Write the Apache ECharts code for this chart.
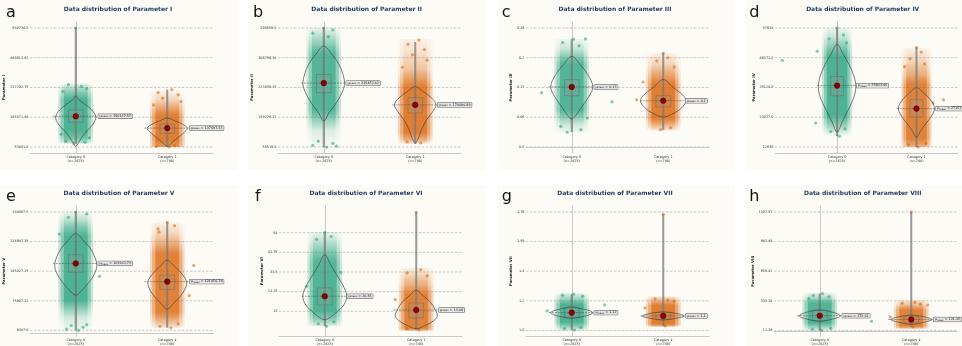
<!DOCTYPE html>
<html><head><meta charset="utf-8">
<script src="https://cdn.jsdelivr.net/npm/echarts@6/dist/echarts.min.js"></script>
<style>html,body{margin:0;padding:0;background:#fff}#c{width:962px;height:346px}</style>
</head><body><div id="c"></div>
<script>
// ---------- DATA ----------
const panelLetters = ['a','b','c','d','e','f','g','h'];
const panelTitles = ['Data distribution of Parameter I','Data distribution of Parameter II','Data distribution of Parameter III','Data distribution of Parameter IV','Data distribution of Parameter V','Data distribution of Parameter VI','Data distribution of Parameter VII','Data distribution of Parameter VIII'];
const yAxisNames = ['Parameter I','Parameter II','Parameter III','Parameter IV','Parameter V','Parameter VI','Parameter VII','Parameter VIII'];
const categories = ['Category 0\n(n=2425)','Category 1\n(n=748)'];

const tickValues = [
  [53851, 185571.875, 317292.75, 449013.625, 580734.5],
  [55519, 139279.125, 223039.25, 306799.375, 390559.5],
  [0, 0.065, 0.13, 0.195, 0.26],
  [12630, 23877, 35124, 46371, 57618],
  [6387, 75907.125, 145427.25, 214947.375, 284467.5],
  [13, 23.25, 33.5, 43.75, 54],
  [1.0, 1.1975, 1.395, 1.5925, 1.79],
  [11.26, 335.3375, 659.415, 983.4925, 1307.57]
];
const tickLabels = [
  ['53851.0','185571.88','317292.75','449013.62','580734.5'],
  ['55519.0','139279.12','223039.25','306799.38','390559.5'],
  ['0.0','0.06','0.13','0.2','0.26'],
  ['12630','23877.0','35124.0','46371.0','57618'],
  ['6387.0','75907.12','145427.25','214947.38','284467.5'],
  ['13','23.25','33.5','43.75','54'],
  ['1.0','1.2','1.4','1.59','1.79'],
  ['11.26','335.34','659.42','983.49','1307.57']
];
const yRanges = [[27507,607078.7],[38767,407311.5],[-0.013,0.273],[10380.6,59867.4],[-7517,298371.5],[-0.1,67.9],[0.9605,1.8295],[-53.56,1372.39]];
const xRanges = [[-0.5,1.5],[-0.5,1.5],[-0.5,1.5],[-0.782,1.523],[-0.5,1.5],[-0.5,1.5],[-0.5,1.5],[-0.5,1.5]];

// per panel: [category 0, category 1]
const whiskerLow  = [[68000,53851],[55519,65000],[0.0325,0.0369],[16722,12630],[6387,12800],[5.2,3.2],[1.003,1.03],[11.26,49.4]];
const whiskerHigh = [[580734.5,307700],[390559.5,351000],[0.2357,0.2048],[57618,50240],[284467.5,259800],[54.2,64.6],[1.242,1.774],[414.6,1307.57]];
const q1Values = [[164500,115000],[208400,151400],[0.112,0.0877],[32011,23984],[143000,102800],[16.3,9.5],[1.09,1.075],[120,97.4]];
const q3Values = [[218000,155500],[259600,194100],[0.1473,0.112],[39273,30482],[184000,136000],[25.2,17.3],[1.15,1.12],[232,164.6]];
const meanValues = [[190137.55,137597.55],[235453.62,174090.89],[0.1312,0.101],[35833.46,27157.63],[163663.73,121056.78],[20.83,13.68],[1.119,1.097],[172.61,131.15]];

// violin outlines: [value, half width in category units]
const violinA = [
  [[281000,0],[263000,0.035],[240500,0.11],[218000,0.175],[187000,0.22],[155500,0.19],[128500,0.13],[102000,0.075],[75000,0.033],[57000,0]],
  [[182400,0],[169000,0.087],[155500,0.164],[137600,0.219],[115200,0.175],[92900,0.109],[75000,0.055],[57000,0]]
];
const violinB = [
  [[339300,0],[316550,0.088],[288080,0.166],[259620,0.21],[231150,0.227],[202680,0.188],[174220,0.122],[151450,0.055],[128670,0]],
  [[225460,0],[211220,0.088],[194140,0.177],[174210,0.227],[154290,0.188],[131520,0.122],[103050,0.066],[80280,0.033],[66050,0]]
];
const violinC = [
  [[0.1981,0],[0.1805,0.088],[0.1584,0.175],[0.1319,0.23],[0.1098,0.186],[0.0877,0.109],[0.0722,0.055],[0.0612,0]],
  [[0.1473,0],[0.1297,0.11],[0.1142,0.21],[0.101,0.25],[0.0855,0.2],[0.0744,0.12],[0.0656,0]]
];
const violinD = [
  [[51503,0],[47681,0.076],[43859,0.151],[39272,0.214],[35068,0.236],[30482,0.2],[25896,0.126],[22073,0.063],[18251,0]],
  [[35068,0],[32775,0.1],[30482,0.176],[27424,0.227],[24367,0.19],[21309,0.113],[18634,0.05],[16340,0]]
];
const violinE = [
  [[233777,0],[216486,0.087],[197537,0.164],[178587,0.208],[159637,0.23],[140687,0.208],[121738,0.153],[102788,0.077],[89286,0]],
  [[170770,0],[154900,0.087],[138320,0.164],[119370,0.213],[100420,0.186],[83840,0.131],[69628,0.066],[56126,0]]
];
const violinF = [
  [[42.52,0],[37.15,0.066],[31.94,0.131],[26.72,0.197],[20.98,0.24],[16.29,0.208],[12.64,0.131],[10.03,0.066],[8.62,0]],
  [[23.96,0],[20.98,0.077],[17.85,0.153],[13.68,0.208],[10.55,0.23],[7.94,0.186],[5.86,0.11],[3.93,0]]
];
const violinG = [
  [[1.1573,0],[1.146,0.1],[1.1327,0.19],[1.1192,0.23],[1.1058,0.2],[1.0923,0.12],[1.0808,0]],
  [[1.1238,0],[1.1124,0.15],[1.0956,0.23],[1.0822,0.15],[1.07,0]]
];
const violinH = [
  [[235.3,0],[209.6,0.143],[170.4,0.227],[136.7,0.143],[112.1,0]],
  [[179.3,0],[159.1,0.143],[131.1,0.225],[103.1,0.143],[78.5,0]]
];

// density of the jittered point cloud: [value, density 0..1], high to low
const cloudA = [
  [[339000,0],[316600,0.25],[285300,0.6],[263000,0.85],[128600,0.85],[92800,0.6],[70500,0.2],[68000,0]],
  [[307700,0],[262900,0.2],[227100,0.5],[195800,0.85],[83900,0.9],[53851,0.6]]
];
const cloudB = [
  [[390559.5,0.05],[379170,0.15],[345000,0.45],[316550,0.8],[159980,0.8],[131520,0.4],[103050,0.12],[74590,0.05],[55519,0.03]],
  [[359250,0.05],[316550,0.15],[273850,0.3],[245380,0.6],[222610,0.9],[97360,0.9],[74590,0.4],[63200,0]]
];
const cloudC = [
  [[0.2357,0.05],[0.2136,0.2],[0.196,0.5],[0.1805,0.8],[0.0811,0.8],[0.0634,0.4],[0.0479,0.15],[0.0325,0.05]],
  [[0.2048,0.05],[0.1805,0.2],[0.1584,0.5],[0.1363,0.9],[0.0634,0.9],[0.0479,0.4],[0.0369,0.1]]
];
const cloudD = [
  [[57618,0.05],[54178,0.2],[50356,0.5],[46534,0.85],[24749,0.85],[20927,0.4],[17869,0.1],[16722,0]],
  [[49974,0.05],[45005,0.2],[40037,0.45],[36215,0.85],[15958,0.85],[13282,0.5],[12630,0.3]]
];
const cloudE = [
  [[284467.5,0.05],[268597,0.2],[249648,0.5],[225961,0.85],[79100,0.85],[55413,0.4],[36463,0.15],[8040,0.05]],
  [[259833,0.05],[233067,0.2],[209380,0.45],[185692,0.85],[50676,0.85],[31726,0.45],[12776,0.1]]
];
const cloudF = [
  [[54.37,0.05],[50.19,0.2],[44.98,0.45],[38.72,0.8],[13.68,0.85],[9.51,0.5],[5.34,0.1]],
  [[35.59,0.05],[31.94,0.2],[26.72,0.45],[21.5,0.85],[4.29,0.85],[2.9,0.4]]
];
const cloudG = [
  [[1.247,0.1],[1.2067,0.4],[1.1731,0.85],[1.0587,0.85],[1.0251,0.4],[1.0016,0.1]],
  [[1.2268,0.1],[1.1932,0.45],[1.1662,0.9],[1.045,0.9],[1.0251,0.3]]
];
const cloudH = [
  [[422.5,0.05],[366.4,0.3],[310.4,0.8],[97.5,0.85],[52.7,0.4],[11.26,0.1]],
  [[344,0.05],[288,0.35],[232,0.85],[64,0.85],[30.5,0.3]]
];

// sparse / outlying points: [jitter offset, value]
const pointsA = [
  [[0,580734.5],[-0.08,330000],[0.06,322000],[0.12,312000],[-0.14,300000],[-0.02,70000],[0.1,75000],[-0.11,80000],[0.15,95000],[-0.16,110000]],
  [[0.05,307700],[-0.1,295000],[0.12,285000],[-0.05,270000],[0.15,255000],[-0.15,240000],[0.08,60000],[-0.12,56000],[0.02,54000]]
];
const pointsB = [
  [[0,390559.5],[0.1,385000],[-0.12,376000],[0.05,366000],[-0.06,72000],[0.1,66000],[-0.12,60000],[0.03,55519],[0.14,58000]],
  [[0.04,356400],[-0.08,345000],[0.1,330000],[-0.03,315000],[0.13,300000],[-0.14,280000],[0.06,67000],[-0.09,70000]]
];
const pointsC = [
  [[0.02,0.2357],[0.15,0.236],[-0.1,0.228],[0.08,0.221],[-0.33,0.1186],[0.44,0.0987],[0.17,0.0634],[-0.05,0.0325],[0.1,0.038],[-0.12,0.045]],
  [[0,0.2048],[0.05,0.195],[-0.07,0.188],[-0.29,0.103],[-0.22,0.142],[0.12,0.175],[-0.03,0.038],[0.08,0.042]]
];
const pointsD = [
  [[0,57618],[0.08,55000],[-0.1,53500],[0.12,52000],[-0.69,45388],[-0.27,21691],[-0.25,48827],[0.03,16722],[-0.08,18500],[0.1,19500]],
  [[0,50240],[0.06,48500],[-0.08,46000],[0.1,44000],[0.34,30482],[0.21,29300],[-0.15,43000],[0.02,12630],[-0.1,13500],[0.12,14000]]
];
const pointsE = [
  [[0,284467.5],[0.12,280000],[-0.08,272000],[0.26,133600],[-0.18,232400],[0.03,6387],[-0.1,9500],[0.08,14000],[0.12,20000],[-0.05,18000]],
  [[0,259800],[0.08,252000],[-0.1,245000],[0.29,158900],[0.24,87900],[-0.09,237000],[0.04,12800],[-0.08,16000],[0.12,22000]]
];
const pointsF = [
  [[0,54.2],[0.07,52],[-0.09,50.5],[0.175,33.3],[-0.2,26],[0.02,5.2],[-0.07,6.5],[0.1,7.5]],
  [[0,64.6],[0.05,34.7],[-0.1,33],[0.12,31.5],[-0.23,19.05],[0.03,3.2],[-0.1,4]]
];
const pointsG = [
  [[0.02,1.242],[-0.1,1.235],[0.12,1.228],[0.36,1.171],[-0.27,1.13],[0.03,1.003],[-0.08,1.012],[0.1,1.02]],
  [[0,1.774],[0.05,1.202],[-0.09,1.21],[0.12,1.195],[-0.2,1.15],[0.02,1.03]]
];
const pointsH = [
  [[0.03,414.6],[-0.07,395],[0.1,380],[-0.12,360],[0.565,112],[0.02,11.26],[-0.08,25],[0.12,35]],
  [[0,1307.57],[0.04,318],[-0.1,310],[0.1,300],[-0.23,160],[0.18,290],[0.02,49.4]]
];

const violins = [violinA, violinB, violinC, violinD, violinE, violinF, violinG, violinH];
const clouds = [cloudA, cloudB, cloudC, cloudD, cloudE, cloudF, cloudG, cloudH];
const pointSets = [pointsA, pointsB, pointsC, pointsD, pointsE, pointsF, pointsG, pointsH];

// ---------- LAYOUT / STYLE ----------
const catColors = ['#1b9e77', '#d95f02'];
const FONT = 'DejaVu Sans';
const gridLeft = [30, 278, 526, 775, 30, 279, 526, 774];
const rowTop = [22, 206];
const gridW = 183, gridH = 131;
const nameGaps = [21, 21, 11, 17, 21, 13, 11, 17];
const titleX = [118, 366.7, 615, 862.7, 119, 366, 615, 862.7];
const titleY = [9.5, 193.7];
const letterX = [6, 253, 501.7, 749.3, 6, 255, 501.7, 749.3];
const letterY = [13, 197];
const panelBg = [[0,0,238],[248,0,238],[497,0,238],[745,0,240],[0,185,238],[248,185,238],[497,185,238],[745,185,240]];
const cloudLayers = [[0.19, 0.28], [0.165, 0.4], [0.13, 0.65]];

function rgba(hex, a) {
  const n = parseInt(hex.slice(1), 16);
  return 'rgba(' + (n >> 16) + ',' + ((n >> 8) & 255) + ',' + (n & 255) + ',' + a + ')';
}
function fmtMean(v) { return String(Math.round(v * 100) / 100); }

const grids = [], xAxes = [], yAxes = [], series = [], graphics = [];

for (let p = 0; p < 8; p++) {
  const row = p < 4 ? 0 : 1;
  grids.push({ left: gridLeft[p], top: rowTop[row], width: gridW, height: gridH, containLabel: false });
  xAxes.push({
    type: 'value', gridIndex: p, min: xRanges[p][0], max: xRanges[p][1],
    splitLine: { show: false },
    axisLine: { show: true, lineStyle: { color: '#c9c9c9', width: 1.2 } },
    axisTick: { show: false },
    axisLabel: {
      customValues: [0, 1], margin: 2, fontSize: 3.4, lineHeight: 3.8, color: '#333', fontFamily: FONT,
      formatter: v => categories[Math.round(v)]
    }
  });
  yAxes.push({
    type: 'value', gridIndex: p, min: yRanges[p][0], max: yRanges[p][1],
    name: yAxisNames[p], nameLocation: 'middle', nameGap: nameGaps[p],
    nameTextStyle: { fontSize: 3.8, fontWeight: 'bold', color: '#222', fontFamily: FONT },
    splitLine: { show: false },
    axisLine: { show: true, lineStyle: { color: '#c9c9c9', width: 1 } },
    axisTick: { show: true, customValues: tickValues[p], length: 1.5, lineStyle: { color: '#999', width: 0.5 } },
    axisLabel: {
      customValues: tickValues[p], margin: 1.5, fontSize: 3.4, color: '#333', fontFamily: FONT,
      formatter: v => {
        let best = 0;
        tickValues[p].forEach((t, i) => { if (Math.abs(t - v) < Math.abs(tickValues[p][best] - v)) best = i; });
        return tickLabels[p][best];
      }
    }
  });

  const mid = (yRanges[p][0] + yRanges[p][1]) / 2;

  // dashed grid lines at tick values
  series.push({
    type: 'custom', xAxisIndex: p, yAxisIndex: p, z: 1, silent: true,
    data: tickValues[p].map(v => [0, v]),
    renderItem: (params, api) => {
      const v = api.value(1);
      const a = api.coord([xRanges[p][0], v]), b = api.coord([xRanges[p][1], v]);
      return { type: 'line', shape: { x1: a[0], y1: a[1], x2: b[0], y2: b[1] },
        style: { stroke: '#bdbdbd', lineWidth: 0.8, lineDash: [2.5, 1.5] } };
    }
  });

  // jittered point clouds (density shading)
  series.push({
    type: 'custom', xAxisIndex: p, yAxisIndex: p, z: 2, silent: true,
    data: [[0, mid], [1, mid]],
    renderItem: (params, api) => {
      const c = params.dataIndex;
      const stops = clouds[p][c];
      const top = api.coord([c, stops[0][0]])[1];
      const bot = api.coord([c, stops[stops.length - 1][0]])[1];
      const h = Math.max(bot - top, 0.1);
      const grad = k => new echarts.graphic.LinearGradient(0, 0, 0, 1,
        stops.map(s => ({ offset: Math.min(1, Math.max(0, (api.coord([c, s[0]])[1] - top) / h)), color: rgba(catColors[c], Math.min(1, s[1] * k)) })));
      const children = cloudLayers.map(([hw, k]) => {
        const l = api.coord([c - hw, stops[0][0]])[0], r = api.coord([c + hw, stops[0][0]])[0];
        return { type: 'rect', shape: { x: l, y: top, width: r - l, height: h }, style: { fill: grad(k) } };
      });
      return { type: 'group', children };
    }
  });

  // sparse points
  for (let c = 0; c < 2; c++) {
    series.push({
      type: 'scatter', xAxisIndex: p, yAxisIndex: p, z: 3, silent: true,
      symbolSize: 3.2,
      itemStyle: { color: catColors[c], opacity: 0.55 },
      data: pointSets[p][c].map(([j, v]) => [c + j, v])
    });
  }

  // whisker, box, violin, mean marker and label
  series.push({
    type: 'custom', xAxisIndex: p, yAxisIndex: p, z: 4, silent: true,
    data: [[0, mid], [1, mid]],
    renderItem: (params, api) => {
      const c = params.dataIndex;
      const ch = [];
      const w0 = api.coord([c, whiskerLow[p][c]]), w1 = api.coord([c, whiskerHigh[p][c]]);
      ch.push({ type: 'line', shape: { x1: w0[0], y1: w0[1], x2: w1[0], y2: w1[1] },
        style: { stroke: 'rgba(120,120,120,0.75)', lineWidth: 2 } });
      const b0 = api.coord([c - 0.08, q3Values[p][c]]), b1 = api.coord([c + 0.08, q1Values[p][c]]);
      ch.push({ type: 'rect', shape: { x: b0[0], y: b0[1], width: b1[0] - b0[0], height: b1[1] - b0[1] },
        style: { fill: 'rgba(150,150,150,0.25)', stroke: 'rgba(90,90,90,0.6)', lineWidth: 0.6 } });
      const prof = violins[p][c];
      const pts = prof.map(s => api.coord([c + s[1], s[0]]))
        .concat(prof.slice(1, -1).reverse().map(s => api.coord([c - s[1], s[0]])));
      ch.push({ type: 'polygon', shape: { points: pts, smooth: 0.35 },
        style: { fill: 'none', stroke: '#454545', lineWidth: 0.7 } });
      const mv = meanValues[p][c];
      const m = api.coord([c, mv]);
      const ml = api.coord([c - 0.25, mv]), mr = api.coord([c + 0.24, mv]);
      ch.push({ type: 'line', shape: { x1: ml[0], y1: m[1], x2: mr[0], y2: m[1] },
        style: { stroke: '#555', lineWidth: 0.6, lineDash: [2, 1] } });
      ch.push({ type: 'circle', shape: { cx: m[0], cy: m[1], r: 2.8 },
        style: { fill: '#8b0000', stroke: '#4a0000', lineWidth: 0.5 } });
      ch.push({ type: 'text', x: mr[0] + 0.5, y: m[1],
        style: {
          text: '{m|μ}{s|mean}{m| = ' + fmtMean(mv) + '}',
          rich: { m: { fontSize: 3.3, fontFamily: FONT, fill: '#111' }, s: { fontSize: 2.4, fontFamily: FONT, fill: '#111', verticalAlign: 'bottom' } },
          align: 'left', verticalAlign: 'middle',
          backgroundColor: '#e4e4e4', borderColor: '#555', borderWidth: 0.5, padding: [0.6, 1.2]
        } });
      return { type: 'group', children: ch };
    }
  });

  // panel background, title and letter
  const bg = panelBg[p];
  graphics.push({ type: 'rect', z: -10, silent: true, shape: { x: bg[0], y: bg[1], width: bg[2], height: 170 }, style: { fill: '#fcfbf5' } });
  graphics.push({ type: 'text', z: 10, silent: true, x: titleX[p], y: titleY[row],
    style: { text: panelTitles[p], font: 'bold 6px "' + FONT + '"', fill: '#1f3a5f', align: 'center', verticalAlign: 'middle' } });
  graphics.push({ type: 'text', z: 10, silent: true, x: letterX[p], y: letterY[row],
    style: { text: panelLetters[p], font: '16px "' + FONT + '"', fill: '#111', align: 'left', verticalAlign: 'middle' } });
}

const chart = echarts.init(document.getElementById('c'), null, { renderer: 'canvas', width: 962, height: 346 });
chart.setOption({
  backgroundColor: '#ffffff',
  animation: false,
  grid: grids, xAxis: xAxes, yAxis: yAxes, series: series,
  graphic: { elements: graphics }
});
</script>
</body></html>
